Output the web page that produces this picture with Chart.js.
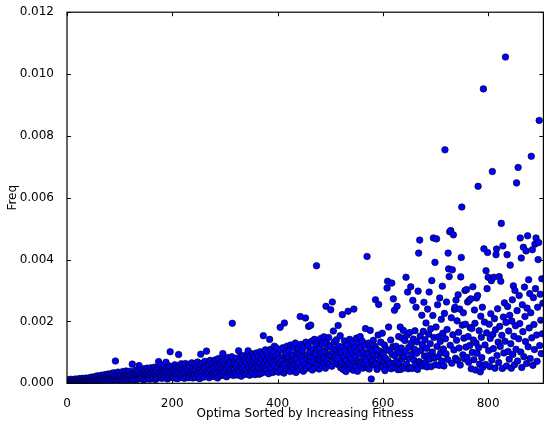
<!DOCTYPE html>
<html>
<head>
<meta charset="utf-8">
<script src="https://cdn.jsdelivr.net/npm/chart.js@4.4.1/dist/chart.umd.min.js"></script>
<style>
  html, body { margin: 0; padding: 0; background: #fff; }
  #wrap { width: 548px; height: 425px; }
</style>
</head>
<body>
<div id="wrap"><canvas id="freqChart"></canvas></div>
<script>
// frequency of each optimum (x 1e-4), index = rank by increasing fitness
const freq = [
  0.4,0.8,0.6,1.1,0.5,0.9,0.7,1.3,0.6,0.4,1.0,0.8,1.2,0.5,0.9,0.7,1.4,0.6,1.0,0.8,
  0.9,1.2,0.6,1.5,0.8,1.1,0.5,1.3,0.9,1.6,0.7,1.0,1.4,0.6,1.2,0.9,1.7,0.8,1.1,1.5,
  0.7,1.3,1.0,1.8,0.6,1.4,1.1,2.0,0.9,1.5,1.2,0.8,1.9,1.3,2.2,0.7,1.6,1.0,2.4,1.2,
  1.4,0.8,2.1,1.1,1.7,2.6,0.9,1.5,2.3,1.2,1.9,0.7,2.8,1.4,2.0,1.0,2.5,1.6,3.0,1.3,
  1.8,2.7,0.9,2.2,1.5,3.2,1.1,2.4,1.7,3.4,1.3,2.0,7.2,1.6,2.9,1.0,2.5,3.6,1.4,2.1,
  2.8,1.2,3.3,1.9,2.4,0.9,3.8,1.6,2.6,1.3,3.1,2.0,4.0,1.5,2.7,1.1,3.5,2.2,1.7,3.9,
  2.5,1.4,3.0,1.8,6.2,2.2,1.0,3.6,2.7,1.5,4.2,2.0,3.3,1.2,2.9,3.8,1.7,5.7,2.4,3.1,
  1.6,4.4,2.6,1.9,3.5,1.1,4.7,2.8,2.1,3.9,1.4,3.2,4.9,2.3,1.8,4.1,2.9,1.3,3.6,5.0,
  2.2,3.4,1.5,4.6,2.7,1.9,5.2,3.0,1.2,4.3,2.5,3.8,1.7,4.8,7.0,2.9,3.5,2.0,5.9,4.0,
  1.6,4.9,3.1,2.4,5.4,1.8,3.7,4.4,6.8,2.6,5.1,1.4,3.3,4.7,2.1,5.6,10.2,3.0,4.2,1.9,
  3.9,5.3,2.3,4.5,1.7,6.0,3.4,2.7,5.0,4.1,1.5,3.6,9.3,5.5,2.5,4.8,3.2,6.3,1.9,4.3,
  2.8,5.7,3.5,1.6,4.9,6.4,2.2,3.9,5.2,2.9,4.4,1.8,6.1,3.3,5.6,2.6,4.0,6.6,3.0,1.7,
  5.0,3.7,2.4,6.2,4.5,1.9,5.5,3.1,6.9,2.7,4.2,5.8,1.5,3.6,9.4,4.8,2.3,6.5,3.9,5.2,
  2.0,4.6,7.1,3.3,5.6,10.4,2.8,4.1,6.0,3.5,1.8,5.3,7.4,4.3,2.5,6.4,3.8,5.0,2.2,6.8,
  4.0,2.9,7.6,5.4,3.2,6.1,1.7,4.7,8.0,3.6,5.8,2.4,6.7,4.4,3.0,7.2,9.6,5.1,2.6,6.3,
  3.7,7.8,4.9,2.1,6.0,8.3,3.4,5.5,2.8,7.0,4.2,6.6,3.1,8.6,19.4,5.0,2.5,6.9,4.6,7.5,
  3.3,5.8,8.1,2.7,6.4,4.5,10.5,7.2,3.9,5.3,8.7,2.3,6.1,4.8,9.0,3.6,7.4,5.6,2.9,8.2,
  4.3,6.8,3.0,9.2,10.5,5.2,7.7,2.6,6.3,8.9,4.0,5.9,3.4,9.5,7.0,4.7,8.4,2.8,6.5,5.4,
  9.8,3.8,7.3,5.0,8.8,2.9,6.7,10.2,4.4,7.9,3.3,9.3,5.7,15.4,6.2,8.5,3.7,10.8,5.1,7.6,
  4.1,9.6,6.0,3.1,8.2,14.2,5.4,11.0,7.1,4.6,9.0,3.5,6.8,10.0,12.0,5.7,8.6,4.0,11.4,7.3,
  5.2,9.3,3.6,8.0,6.5,18.1,10.8,4.4,7.2,6.0,11.5,5.6,3.3,19.5,8.8,6.1,9.7,4.8,12.0,7.6,
  8.5,4.2,10.6,6.8,3.8,12.4,7.3,5.4,9.1,7.2,11.8,4.7,8.0,6.0,13.0,3.5,10.1,8.0,5.9,11.2,
  6.6,9.5,4.5,21.6,8.6,12.6,5.3,10.7,7.4,3.9,11.9,8.8,6.2,21.1,13.3,4.8,9.0,7.9,12.1,18.4,
  5.6,10.3,8.4,18.8,6.9,13.6,4.3,11.0,8.3,7.1,14.2,5.0,9.6,12.5,38.0,6.4,10.9,7.7,13.9,4.6,
  11.4,7.6,14.5,8.9,5.8,12.8,9.8,6.7,15.0,8.2,10.5,4.9,24.9,13.1,7.3,11.7,8.4,14.8,6.1,9.3,
  12.2,23.8,8.9,5.5,26.3,10.1,16.9,7.8,13.4,8.7,11.1,6.3,14.1,9.0,8.1,18.7,12.0,5.9,10.6,15.4,
  5.0,9.9,6.6,22.2,11.8,4.4,8.3,13.7,6.5,10.6,3.8,7.4,12.4,5.7,23.3,9.2,6.1,14.2,4.8,11.1,
  7.9,6.0,13.2,9.6,4.2,24.0,11.5,6.4,8.8,5.3,14.6,10.3,3.9,7.1,12.9,6.6,9.4,15.1,5.6,11.8,
  6.9,13.6,4.9,10.0,8.2,6.3,12.3,17.7,7.6,5.2,41.0,9.8,6.0,13.0,4.6,11.2,17.1,8.5,1.4,6.8,
  10.7,7.2,13.9,5.9,9.1,12.0,27.0,6.5,11.0,4.5,8.9,15.6,25.5,6.4,10.4,7.7,13.3,5.4,9.6,16.2,
  5.2,9.6,7.0,12.4,4.1,8.1,11.1,6.0,30.8,33.0,7.3,18.2,5.6,10.5,6.4,14.0,4.7,32.4,9.3,11.8,
  27.3,6.5,23.6,8.9,5.0,12.0,7.0,24.9,10.7,4.4,15.1,6.6,9.8,18.2,4.5,11.4,7.9,14.6,5.3,17.1,
  8.5,5.0,13.8,10.2,34.3,6.2,15.6,29.5,4.7,11.6,8.0,16.4,5.1,31.2,12.9,9.4,4.8,26.8,14.3,7.5,
  11.0,17.0,5.9,24.6,9.7,13.4,4.5,29.8,42.1,7.0,46.3,15.3,10.6,6.3,22.0,12.5,5.6,16.8,26.2,8.8,
  14.1,6.7,19.5,11.3,5.3,24.0,9.0,15.9,29.5,7.8,12.8,17.6,5.4,33.2,10.1,21.9,47.0,14.8,8.2,39.1,
  6.0,18.2,46.7,11.9,25.4,8.6,15.0,5.8,27.6,13.5,9.9,20.7,7.2,31.4,16.2,11.1,5.6,22.6,75.5,14.4,
  9.5,26.3,17.4,7.7,42.1,37.0,34.5,49.0,12.3,49.4,21.2,6.5,36.7,15.7,48.0,10.8,23.9,24.6,8.1,26.9,
  13.9,20.2,7.4,28.6,16.5,11.4,24.0,5.9,34.4,40.7,57.0,18.8,9.2,22.8,14.6,7.9,30.0,19.1,11.7,30.3,
  8.4,26.3,15.1,6.8,26.8,12.2,18.0,27.3,4.7,17.7,10.0,31.2,14.0,7.6,23.7,19.4,4.3,13.0,27.6,9.7,
  28.4,63.7,11.5,17.0,6.2,3.7,21.7,14.9,8.3,24.6,5.2,95.2,43.5,19.8,12.4,6.1,36.4,16.3,30.6,42.3,
  34.3,10.6,19.1,5.4,14.5,22.5,33.2,7.5,68.5,15.8,11.2,34.3,20.9,4.9,17.3,41.6,43.4,9.0,24.1,13.3,
  6.7,34.5,18.4,11.9,33.0,51.7,15.5,4.8,44.4,21.4,9.8,26.0,13.6,105.5,19.7,5.6,41.6,24.8,10.3,16.9,
  7.8,22.0,38.2,12.8,4.9,20.1,27.0,9.3,31.5,15.2,6.0,30.0,18.6,11.0,64.8,23.5,7.2,69.8,14.4,28.4,
  19.3,47.0,10.1,40.5,5.1,25.4,16.7,44.0,8.6,31.1,21.6,13.5,42.8,6.4,24.3,47.7,11.8,33.5,17.9,29.0,
  8.0,22.8,73.4,14.7,43.2,5.8,27.7,19.0,10.9,45.0,30.6,47.0,15.6,7.1,24.6,40.0,45.5,85.0,12.2,28.8,
  20.4,9.6,33.8,16.0,25.9
];

const xTicks = [0, 200, 400, 600, 800];
const yTicks = [0, 0.002, 0.004, 0.006, 0.008, 0.010, 0.012];
const xMax = 905;

const points = freq.map((v, i) => ({ x: i, y: v / 10000 }));

const font = { family: "'DejaVu Sans', sans-serif", size: 12 };

// box round the plot with short ticks pointing inward on every side
const frameTicks = {
  id: "frameTicks",
  afterDatasetsDraw(chart) {
    const { ctx, chartArea: a, scales } = chart;
    const len = 4;
    ctx.save();
    ctx.strokeStyle = "#000";
    ctx.lineWidth = 1;
    ctx.beginPath();
    scales.x.ticks.forEach((t) => {
      const px = Math.round(scales.x.getPixelForValue(t.value)) + 0.5;
      ctx.moveTo(px, a.bottom);
      ctx.lineTo(px, a.bottom - len);
      ctx.moveTo(px, a.top);
      ctx.lineTo(px, a.top + len);
    });
    scales.y.ticks.forEach((t) => {
      const py = Math.round(scales.y.getPixelForValue(t.value)) + 0.5;
      ctx.moveTo(a.left, py);
      ctx.lineTo(a.left + len, py);
      ctx.moveTo(a.right, py);
      ctx.lineTo(a.right - len, py);
    });
    ctx.stroke();
    ctx.lineWidth = 1.2;
    ctx.strokeRect(a.left, a.top, a.right - a.left, a.bottom - a.top);
    ctx.restore();
  },
};

new Chart(document.querySelector("#freqChart"), {
  type: "scatter",
  data: {
    datasets: [
      {
        data: points,
        backgroundColor: "#0000ff",
        borderColor: "#000",
        borderWidth: 0.6,
        pointRadius: 3.3,
      },
    ],
  },
  options: {
    responsive: true,
    maintainAspectRatio: false,
    animation: false,
    layout: { padding: { top: 10.7, right: 0, bottom: 0, left: 0 } },
    plugins: {
      legend: { display: false },
      tooltip: { enabled: false },
    },
    scales: {
      x: {
        type: "linear",
        min: 0,
        max: xMax,
        afterFit: (scale) => { scale.height = 41.7; },
        afterBuildTicks: (scale) => {
          scale.ticks = xTicks.map((v) => ({ value: v }));
        },
        grid: { display: false },
        border: { display: false },
        ticks: { font, color: "#000", padding: 5, maxRotation: 0 },
        title: {
          display: true,
          text: "Optima Sorted by Increasing Fitness",
          font,
          color: "#000",
          padding: { top: 0, bottom: 4 },
        },
      },
      y: {
        min: 0,
        max: 0.012,
        afterFit: (scale) => { scale.width = 67; },
        afterBuildTicks: (scale) => {
          scale.ticks = yTicks.map((v) => ({ value: v }));
        },
        grid: { display: false },
        border: { display: false },
        ticks: {
          font,
          color: "#000",
          padding: 5,
          callback: (v) => v.toFixed(3),
        },
        title: {
          display: true,
          text: "Freq",
          font,
          color: "#000",
          padding: { top: 6, bottom: 0 },
        },
      },
    },
  },
  plugins: [frameTicks],
});
</script>
</body>
</html>
